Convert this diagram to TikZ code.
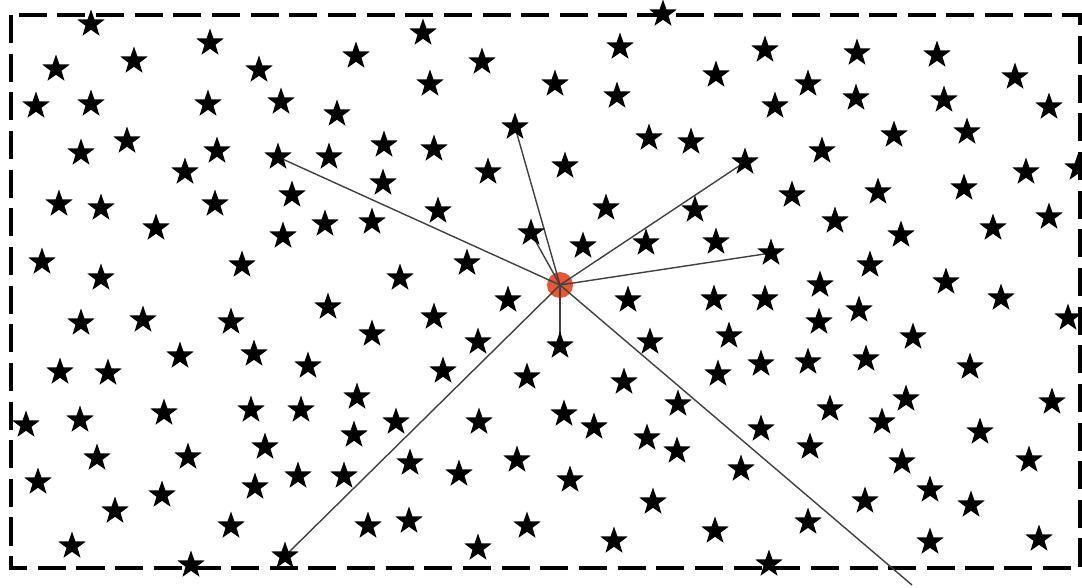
\documentclass[tikz,border=0pt]{standalone}
\usetikzlibrary{shapes.geometric}
\pgfdeclarelayer{bg}
\pgfdeclarelayer{mid}
\pgfsetlayers{bg,mid,main}
\definecolor{dotred}{RGB}{232,86,54}
\tikzset{
  starnode/.style={star, star points=5, star point ratio=2.5, fill=black, draw=none, inner sep=0pt, minimum size=0.58cm},
  hubdot/.style={circle, fill=dotred, draw=none, inner sep=0pt, minimum size=0.52cm},
  ray/.style={draw=black!75, line width=0.8pt},
  frame/.style={draw=black, line width=2.1pt, dash pattern=on 16pt off 6pt}
}
\begin{document}
\begin{tikzpicture}[x=0.02cm, y=-0.02cm]
\useasboundingbox (0,0) rectangle (1082,588);
\begin{pgfonlayer}{bg}
  \draw[frame] (11,15) rectangle (1080,568);
\end{pgfonlayer}
% stars that are ends of rays
\node[starnode] (a) at (278,157) {};
\node[starnode] (b) at (515,127) {};
\node[starnode] (d) at (531,233) {};
\node[starnode] (e) at (745,162) {};
\node[starnode] (f) at (771,253) {};
\node[starnode] (g) at (560,346) {};
\node[starnode] (h) at (285,556) {};
\coordinate (free) at (912,585);
% all other stars
\foreach \x/\y [count=\i] in {
91/24, 663/14, 423/33, 210/43, 56/69, 134/61, 356/56, 482/62, 620/47, 765/50,
857/53, 937/55, 259/70, 716/75, 1015/77, 430/84, 555/84, 808/84, 36/106, 91/104,
208/104, 281/102, 617/96, 775/106, 856/98, 944/100, 1049/107, 337/114, 894/135, 967/132,
81/153, 127/141, 217/151, 329/157, 384/145, 434/149, 649/138, 691/142, 822/151, 185/172,
383/183, 488/172, 565/166, 1026/172, 1078/168, 292/195, 59/204, 101/208, 215/204, 438/211,
606/208, 792/195, 878/192, 964/188, 156/228, 283/236, 325/224, 372/222, 583/246, 646/243,
695/210, 716/242, 835/221, 901/235, 993/228, 1049/217, 42/262, 101/278, 242/265, 400/278,
467/263, 870/265, 946/282, 1001/298, 508/300, 628/300, 714/299, 765/299, 820/285, 859/310,
1068/318, 81/323, 143/320, 231/322, 328/307, 372/334, 434/317, 819/322, 650/342, 729/336,
913/337, 180/356, 254/354, 478/342, 60/372, 108/373, 308/366, 443/371, 527/377, 718/374,
761/364, 808/362, 866/359, 970/367, 624/382, 26/425, 80/420, 164/413, 251/410, 301/410,
357/397, 396/422, 479/422, 564/414, 594/427, 678/404, 830/409, 906/399, 1052/402, 354/435,
647/438, 677/451, 761/429, 882/422, 980/432, 97/458, 188/457, 265/447, 410/463, 459/474,
517/460, 741/469, 810/447, 902/462, 1029/460, 38/482, 115/511, 162/495, 255/487, 298/476,
344/476, 570/480, 653/502, 865/501, 930/490, 971/505, 72/546, 191/565, 231/526, 368/526,
409/521, 478/548, 527/526, 614/541, 715/531, 769/564, 808/522, 930/542, 1039/539}
  \node[starnode] (s\i) at (\x,\y) {};
\begin{pgfonlayer}{mid}
  \node[hubdot] (c) at (560,285) {};
  \draw[ray] (c.center) -- (a.center);
  \draw[ray] (c.center) -- (b.center);
  \draw[ray] (c.center) -- (d.center);
  \draw[ray] (c.center) -- (e.center);
  \draw[ray] (c.center) -- (f.center);
  \draw[ray] (c.center) -- (g.center);
  \draw[ray] (c.center) -- (h.center);
  \draw[ray] (c.center) -- (free);
\end{pgfonlayer}
\end{tikzpicture}
\end{document}
